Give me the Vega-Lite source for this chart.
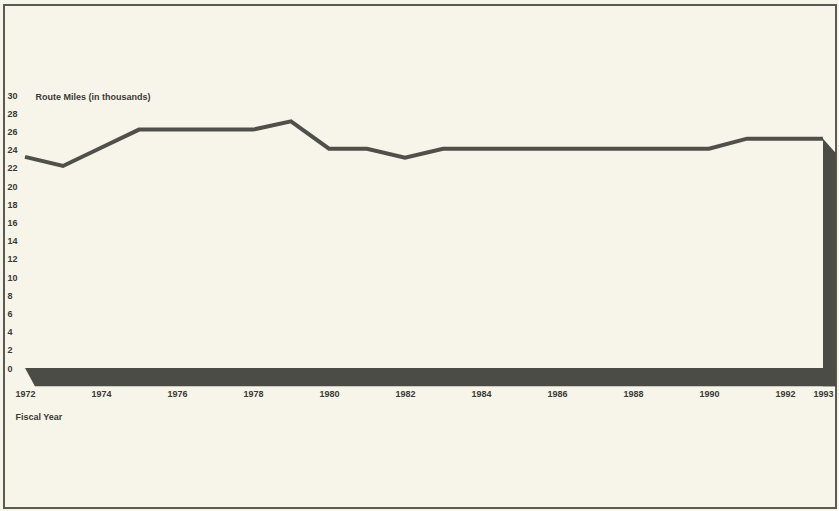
{
  "$schema": "https://vega.github.io/schema/vega-lite/v6.json",
  "autosize": {"type": "none"},
  "width": 832,
  "height": 503,
  "padding": {"left": 4, "top": 5, "right": 3, "bottom": 3},
  "background": "#f7f5ea",
  "config": {
    "view": {"stroke": "#5a5a54", "strokeWidth": 2, "fill": "#f7f5ea"},
    "font": "Liberation Sans",
    "axis": {"labelOverlap": false, "labelBound": false, "labelFlush": false}
  },
  "datasets": {
    "miles": [
      {"year": 1972, "miles": 23.2},
      {"year": 1973, "miles": 22.2},
      {"year": 1974, "miles": 24.2},
      {"year": 1975, "miles": 26.2},
      {"year": 1976, "miles": 26.2},
      {"year": 1977, "miles": 26.2},
      {"year": 1978, "miles": 26.2},
      {"year": 1979, "miles": 27.1},
      {"year": 1980, "miles": 24.1},
      {"year": 1981, "miles": 24.1},
      {"year": 1982, "miles": 23.1},
      {"year": 1983, "miles": 24.1},
      {"year": 1984, "miles": 24.1},
      {"year": 1985, "miles": 24.1},
      {"year": 1986, "miles": 24.1},
      {"year": 1987, "miles": 24.1},
      {"year": 1988, "miles": 24.1},
      {"year": 1989, "miles": 24.1},
      {"year": 1990, "miles": 24.1},
      {"year": 1991, "miles": 25.2},
      {"year": 1992, "miles": 25.2},
      {"year": 1993, "miles": 25.2}
    ],
    "shadow": [
      {"part": "floor", "year": 1972, "top": 0, "bottom": 0},
      {"part": "floor", "year": 1972.26, "top": 0, "bottom": -2},
      {"part": "floor", "year": 1993.34, "top": 0, "bottom": -2},
      {"part": "wall", "year": 1993, "top": 25.2, "bottom": -2},
      {"part": "wall", "year": 1993.34, "top": 23.6, "bottom": -2}
    ]
  },
  "layer": [
    {
      "data": {"name": "shadow"},
      "mark": {"type": "area", "color": "#4c4c46", "opacity": 1},
      "encoding": {
        "x": {"field": "year", "type": "quantitative", "scale": {"domain": [1971.447, 1993.342], "nice": false, "zero": false},
          "axis": {
            "values": [1972, 1974, 1976, 1978, 1980, 1982, 1984, 1986, 1988, 1990, 1992, 1993],
            "tickCount": 40,
            "format": "d", "grid": false, "domain": false, "ticks": false, "tickSize": 0,
            "offset": -119, "labelPadding": 0, "labelBaseline": "top", "labelAlign": "center",
            "labelFont": "Liberation Sans", "labelFontWeight": "bold", "labelFontSize": 9, "labelColor": "#3a3a36",
            "labelOverlap": false, "labelFlush": false,
            "title": "Fiscal Year", "titleX": 11, "titleY": 27, "titleAlign": "left", "titleAnchor": "start",
            "titleBaseline": "middle", "titleFont": "Liberation Sans", "titleFontWeight": "bold", "titleFontSize": 9, "titleColor": "#3a3a36"
          }},
        "y": {"field": "top", "type": "quantitative", "scale": {"domain": [-15.38, 39.89], "nice": false, "zero": false},
          "axis": {
            "values": [0, 2, 4, 6, 8, 10, 12, 14, 16, 18, 20, 22, 24, 26, 28, 30],
            "tickCount": 40,
            "grid": false, "domain": false, "ticks": false, "tickSize": 0,
            "labelPadding": -3, "labelAlign": "left", "labelBaseline": "middle",
            "labelFont": "Liberation Sans", "labelFontWeight": "bold", "labelFontSize": 9, "labelColor": "#3a3a36",
            "labelOverlap": false, "labelFlush": false, "labelBound": false,
            "title": "Route Miles (in thousands)", "titleAngle": 0, "titleX": 31, "titleY": 91,
            "titleAlign": "left", "titleBaseline": "middle", "titleAnchor": "start",
            "titleFont": "Liberation Sans", "titleFontWeight": "bold", "titleFontSize": 9, "titleColor": "#3a3a36"
          }},
        "y2": {"field": "bottom"},
        "detail": {"field": "part"}
      }
    },
    {
      "data": {"name": "miles"},
      "mark": {"type": "line", "color": "#50504a", "strokeWidth": 4, "strokeJoin": "miter"},
      "encoding": {
        "x": {"field": "year", "type": "quantitative"},
        "y": {"field": "miles", "type": "quantitative"}
      }
    }
  ]
}
